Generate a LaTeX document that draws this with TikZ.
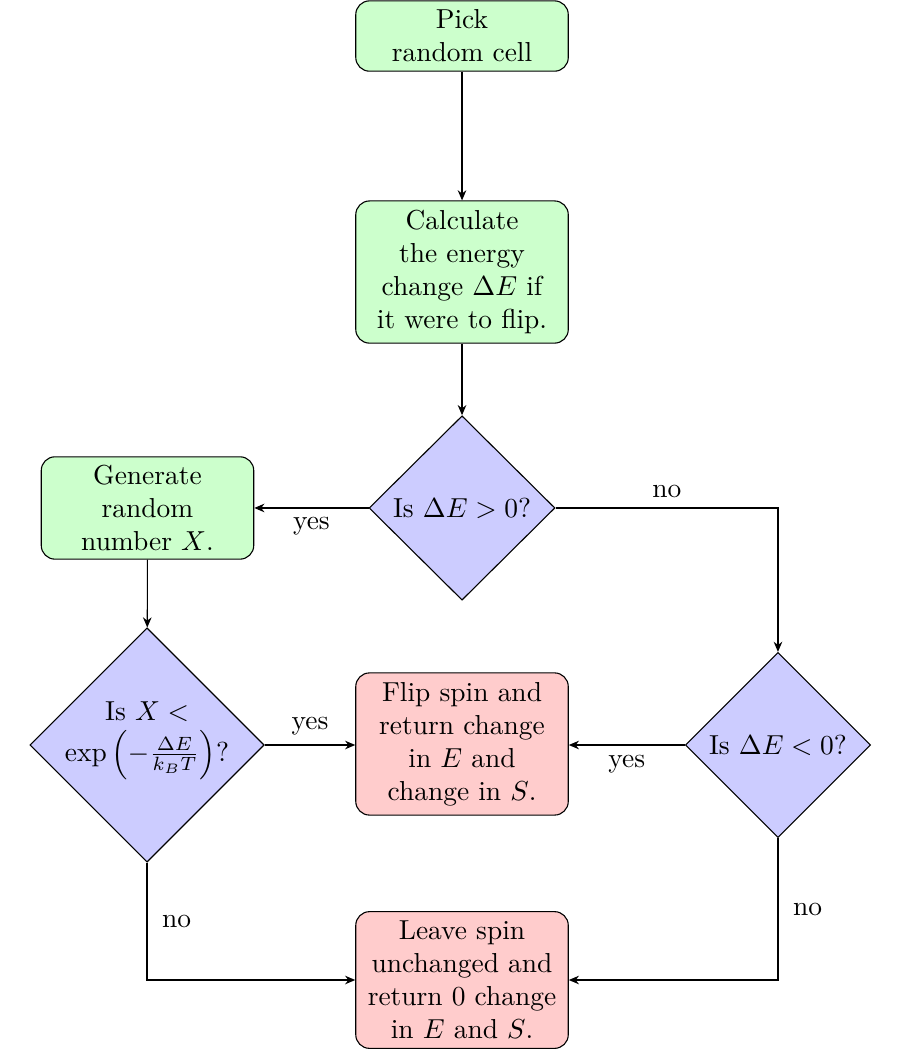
\documentclass[tikz,border=0pt]{standalone}
\usepackage{xcolor}
\usepackage{tikz}
\usetikzlibrary{positioning,arrows.meta,shapes.geometric}
\definecolor{procFill}{HTML}{CCFFCC}
\definecolor{endFill}{HTML}{FFCCCC}
\definecolor{askFill}{HTML}{CCCCFF}

\begin{document}
\begin{tikzpicture}[
  procbox/.style={draw, rounded corners=5pt, fill=procFill, minimum width=2.72cm,
               align=center, inner sep=3pt},
  endbox/.style={procbox, fill=endFill},
  askbox/.style={draw, diamond, fill=askFill, align=center, inner sep=0pt},
  arrow/.style={-{Stealth[length=1.3mm,width=1.1mm]}}
]
  \useasboundingbox (0,0) rectangle (11.52,-13.44);

  % boxes
  \node[procbox, minimum height=0.9cm] (pick) at (5.914,-0.461) {Pick\\random cell};
  \node[procbox, minimum height=1.82cm] (calc) at (5.914,-3.482)
      {Calculate\\the energy\\change $\Delta E$ if\\it were to flip.};
  \node[askbox, minimum width=2.38cm, minimum height=2.36cm] (pos) at (5.914,-6.502)
      {Is $\Delta E>0$?};
  \node[procbox, minimum height=1.31cm] (gen) at (1.888,-6.502)
      {Generate\\random\\number $X$.};
  \node[askbox, minimum width=3.0cm, minimum height=3.0cm] (prob) at (1.882,-9.536)
      {\makebox[0pt]{\smash{\begin{tabular}{@{}c@{}}Is $X<$\\
       $\exp\left(-\frac{\Delta E}{k_BT}\right)$?\end{tabular}}}};
  \node[endbox, minimum height=1.82cm] (flip) at (5.914,-9.523)
      {Flip spin and\\return change\\in $E$ and\\change in $S$.};
  \node[askbox, minimum width=2.37cm, minimum height=2.37cm] (neg) at (9.958,-9.536)
      {Is $\Delta E<0$?};
  \node[endbox, minimum height=1.75cm] (leave) at (5.914,-12.544)
      {Leave spin\\unchanged and\\return 0 change\\in $E$ and $S$.};

  % connectors
  \draw[arrow] (pick) -- (calc);
  \draw[arrow] (calc) -- (pos);
  \draw[arrow] (pos) -- node[below] {yes} (gen);
  \draw[arrow] (pos.east) -- node[above] {no} (neg.north |- pos.east) -- (neg.north);
  \draw[arrow] (gen) -- (prob);
  \draw[arrow] (prob.east) -- node[above] {yes} (flip.west |- prob.east);
  \draw[arrow] (neg.west) -- node[below] {yes} (flip.east |- neg.west);
  \draw[arrow] (prob.south) -- node[right=2pt] {no} (prob.south |- leave.west) -- (leave.west);
  \draw[arrow] (neg.south) -- node[right=2pt] {no} (neg.south |- leave.east) -- (leave.east);
\end{tikzpicture}
\end{document}
